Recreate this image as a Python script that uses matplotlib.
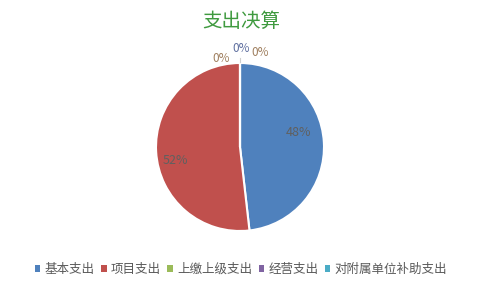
import matplotlib.pyplot as plt
from matplotlib.patches import Patch

plt.rcParams['font.family'] = ['Noto Sans CJK SC', 'DejaVu Sans']

categories = ['基本支出', '项目支出', '上缴上级支出', '经营支出', '对附属单位补助支出']
values = [48.2, 51.8, 0.0, 0.0, 0.0]
colors = ['#4f81bd', '#c0504d', '#9bbb59', '#8064a2', '#4bacc6']

fig = plt.figure(figsize=(4.82, 2.9), dpi=100)
ax = fig.add_axes([0, 0, 1, 1])
ax.set_xlim(0, 482)
ax.set_ylim(0, 290)
ax.set_aspect('equal')
ax.axis('off')

wedges, texts, autotexts = ax.pie(values, colors=colors, startangle=90, counterclock=False,
                                  center=(240, 143), radius=84, autopct='%1.0f%%', pctdistance=0.72,
                                  wedgeprops=dict(edgecolor='white', linewidth=1.5),
                                  textprops=dict(fontsize=9, color='#606060'))
ax.set_xlim(0, 482)
ax.set_ylim(0, 290)

# main labels
autotexts[0].set_position((298, 157))
autotexts[1].set_position((175, 130))
# zero labels
zero_pos = [(221, 232), (241, 241), (260, 238)]
zero_cols = ['#a08060', '#6070a0', '#a08060']
for t, p, c in zip(autotexts[2:], zero_pos, zero_cols):
    t.set_position(p)
    t.set_color(c)
    t.set_fontsize(8.5)
ax.plot([240, 240], [228, 232], color='#d0d0d0', lw=0.8)

ax.text(241, 269, '支出决算', ha='center', va='center', fontsize=14, color='#3f9a3f')

handles = [Patch(facecolor=c, edgecolor='none') for c in colors]
fig.legend(handles, categories, loc='center', bbox_to_anchor=(0.5, 0.072), ncol=5, frameon=False,
           fontsize=9, labelcolor='#595959', handlelength=0.45, handleheight=0.45,
           handletextpad=0.35, columnspacing=0.5)

fig.savefig('out.png', dpi=100)
